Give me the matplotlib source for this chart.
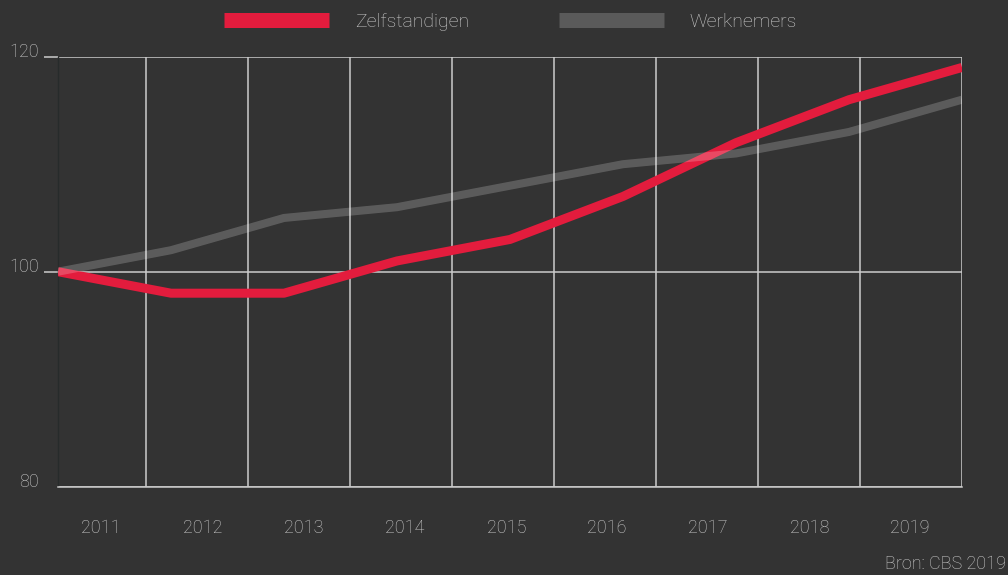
import numpy as np
import matplotlib
matplotlib.use("Agg")
import matplotlib.pyplot as plt
from matplotlib.lines import Line2D

# Data (index 2011 = 100)
years = ["2011", "2012", "2013", "2014", "2015", "2016", "2017", "2018", "2019"]
zelfstandigen = [100, 98, 98, 101, 103, 107, 112, 116, 119]
werknemers = [100, 102, 105, 106, 108, 110, 111, 113, 116]
y_ticks = [80, 100, 120]

# Style
bg = "#333333"
fg = "#cccccc"
red = "#e31c3d"
plt.rcParams["font.family"] = ["Roboto", "DejaVu Sans"]
plt.rcParams["font.weight"] = "light"

# vertical grid + label positions (x axis units, data points at 0..8)
grid_x = [0.779, 1.681, 2.584, 3.487, 4.389, 5.292, 6.195, 7.097, 8.0]
label_x = [0.381, 1.283, 2.177, 3.071, 3.973, 4.858, 5.752, 6.655, 7.540]

fig = plt.figure(figsize=(10.08, 5.75), dpi=100, facecolor=bg)
ax = fig.add_axes([58 / 1008, 88.3 / 575, 904 / 1008, 430 / 575])
ax.set_facecolor(bg)

x = np.arange(len(years))
ax.plot(x, zelfstandigen, color=red, lw=6.5, zorder=3, solid_capstyle="butt")
ax.plot(x, werknemers, color="white", alpha=0.2, lw=5.8, zorder=4, solid_capstyle="butt")

ax.set_xlim(0, 8)
ax.set_ylim(80, 120)

ax.set_xticks(grid_x, minor=True)
ax.set_xticks(label_x, years)
ax.set_yticks(y_ticks)
ax.grid(which="minor", axis="x", color=fg, lw=1.1)
ax.grid(which="major", axis="y", color=fg, lw=1.1)
ax.tick_params(axis="x", which="both", length=0, pad=23, labelsize=13, labelcolor=fg)
ax.tick_params(axis="y", length=10, width=1.1, color=fg, pad=3.6, labelsize=13, labelcolor=fg)
ax.yaxis.get_major_ticks()[0].tick1line.set_visible(False)
for lab in ax.get_yticklabels():
    lab.set_verticalalignment("baseline")

for s in ["top", "right"]:
    ax.spines[s].set_visible(False)
ax.spines["bottom"].set_color(fg)
ax.spines["bottom"].set_linewidth(1.1)
ax.spines["left"].set_color("#272b2b")
ax.spines["left"].set_linewidth(1)

handles = [Line2D([], [], color=red, lw=10.8, solid_capstyle="butt"),
           Line2D([], [], color="#5a5a5a", lw=10.8, solid_capstyle="butt")]
fig.legend(handles, ["Zelfstandigen", "Werknemers"], loc="center",
           bbox_to_anchor=(0.5065, 0.9626), ncol=2, frameon=False,
           fontsize=14, labelcolor=fg, handlelength=5.4, handletextpad=1.35,
           columnspacing=4.6, borderpad=0, borderaxespad=0)

fig.text(1006 / 1008, 2 / 575, "Bron: CBS 2019", color=fg, fontsize=13,
         ha="right", va="bottom")

fig.savefig("out.png", dpi=100, facecolor=bg)
